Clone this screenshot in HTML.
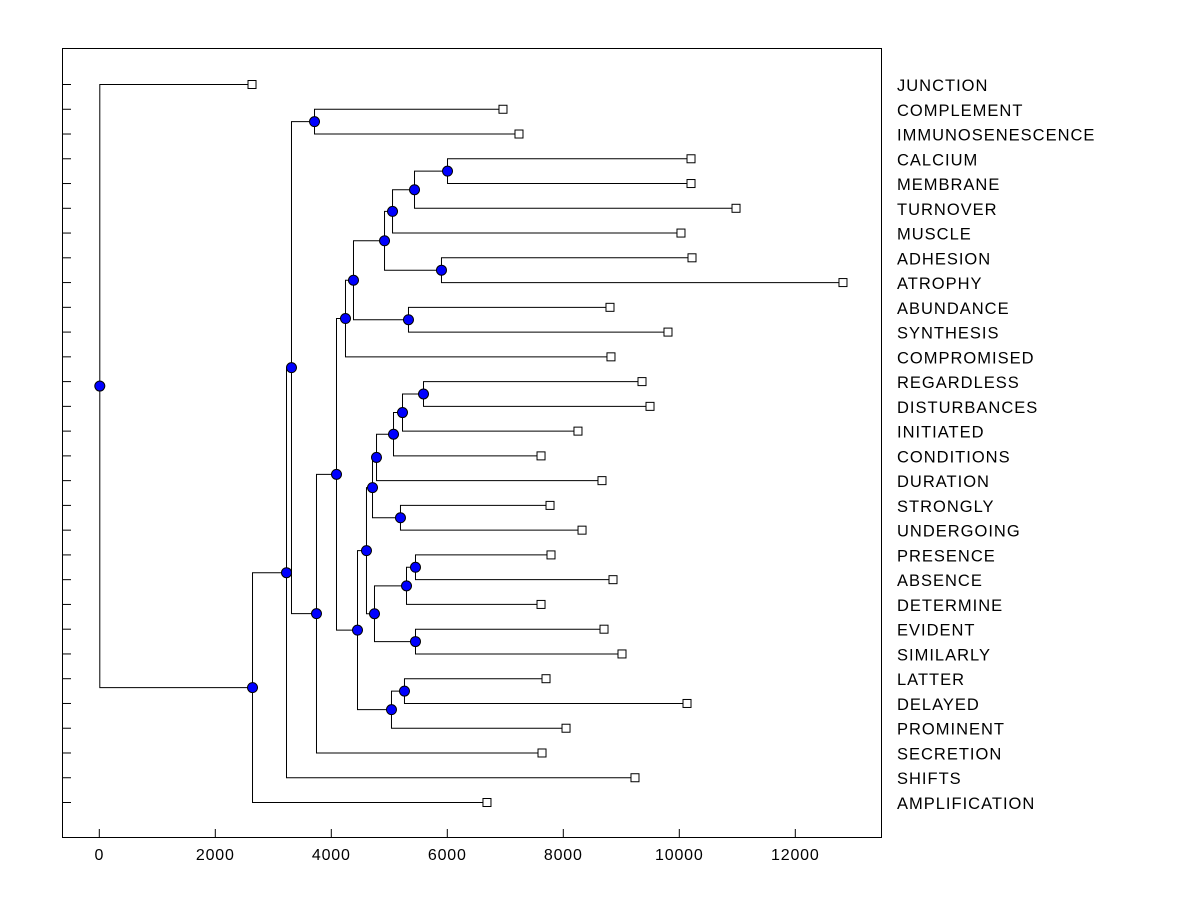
<!DOCTYPE html>
<html><head><meta charset="utf-8"><style>
html,body{margin:0;padding:0;background:#fff;}
svg{display:block;font-family:"Liberation Sans",Arial,sans-serif;}
</style></head><body>
<svg id="chart" width="1200" height="900" viewBox="0 0 1200 900" xmlns="http://www.w3.org/2000/svg">
<rect x="0" y="0" width="1200" height="900" fill="#fff"/>
<rect x="62.5" y="48.5" width="819" height="789" fill="none" stroke="#000" stroke-width="1"/>
<g id="g-ticks"></g>
<g id="g-links"></g>
<g id="g-marks"></g>
<g id="g-labels"></g>
</svg>
<script>
const leafNames = ["JUNCTION","COMPLEMENT","IMMUNOSENESCENCE","CALCIUM","MEMBRANE","TURNOVER","MUSCLE","ADHESION","ATROPHY","ABUNDANCE","SYNTHESIS","COMPROMISED","REGARDLESS","DISTURBANCES","INITIATED","CONDITIONS","DURATION","STRONGLY","UNDERGOING","PRESENCE","ABSENCE","DETERMINE","EVIDENT","SIMILARLY","LATTER","DELAYED","PROMINENT","SECRETION","SHIFTS","AMPLIFICATION"];
const leafValues = [2633,6960,7236,10202,10202,10978,10029,10219,12822,8805,9805,8822,9357,9495,8253,7616,8667,7771,8323,7788,8857,7616,8702,9012,7702,10133,8047,7633,9236,6684];
// node children: ids < 100 are leaves, >= 100 are nodes (100 + node index)
const nodeLeft  = [3,100,101,7,102,9,104,106,1,12,109,110,111,17,112,19,115,22,116,114,24,120,119,107,123,108,125,126,0];
const nodeRight = [4,5,6,8,103,10,105,11,2,13,14,15,16,18,113,20,21,23,117,118,25,26,121,122,27,124,28,29,127];
const nodeValues = [5995,5426,5047,5891,4909,5322,4374,4236,3702,5581,5219,5064,4771,5184,4702,5443,5288,5443,4736,4598,5253,5029,4443,4081,3736,3305,3219,2633,0];
const xTicks = [0,2000,4000,6000,8000,10000,12000];

const NS = "http://www.w3.org/2000/svg";
const xS = v => 99.3 + v * 0.058;
const yS = i => 84 + i * (718 / 29);
function mk(tag, attrs, parent){ const e=document.createElementNS(NS,tag); for(const k in attrs) e.setAttribute(k,attrs[k]); parent.appendChild(e); return e; }
const gT=document.getElementById('g-ticks'), gL=document.getElementById('g-links'), gM=document.getElementById('g-marks'), gLab=document.getElementById('g-labels');

xTicks.forEach(t=>{
  const l=mk('line',{x1:xS(t),x2:xS(t),y1:838,y2:829,stroke:'#000'},gT);
  
  
  const tx=mk('text',{x:xS(t),y:860,'text-anchor':'middle','font-size':'16','letter-spacing':'0.8'},gT);
  
  
  tx.textContent=t;
});
leafNames.forEach((n,i)=>{
  const l=mk('line',{x1:62,x2:71,y1:yS(i)+0.5,y2:yS(i)+0.5,stroke:'#000'},gT);
  
  
});

function pos(id){
  if(id<100) return {x:xS(leafValues[id]), y:yS(id)};
  const k=id-100; const a=pos(nodeLeft[k]), b=pos(nodeRight[k]);
  return {x:xS(nodeValues[k]), y:(a.y+b.y)/2};
}
nodeValues.forEach((v,k)=>{
  const p=pos(100+k), a=pos(nodeLeft[k]), b=pos(nodeRight[k]);
  const path=mk('path',{d:`M${a.x},${a.y+0.5}H${p.x+0.5}V${b.y+0.5}H${b.x}`,fill:'none',stroke:'#000','stroke-width':1},gL);
  
  
});
nodeValues.forEach((v,k)=>{
  const p=pos(100+k);
  const c=mk('circle',{cx:p.x+0.5,cy:p.y+0.5,r:5,fill:'#0000ff',stroke:'#000','stroke-width':1},gM);
  
  
});
leafNames.forEach((n,i)=>{
  const p=pos(i);
  const r=mk('rect',{x:p.x-4,y:p.y-3.5,width:8,height:8,fill:'#fff',stroke:'#000','stroke-width':1},gM);
  
  
  const t=mk('text',{x:897,y:p.y+7,'font-size':'16.5','letter-spacing':'1'},gLab);
  
  
  t.textContent=n;
});
</script>
</body></html>
